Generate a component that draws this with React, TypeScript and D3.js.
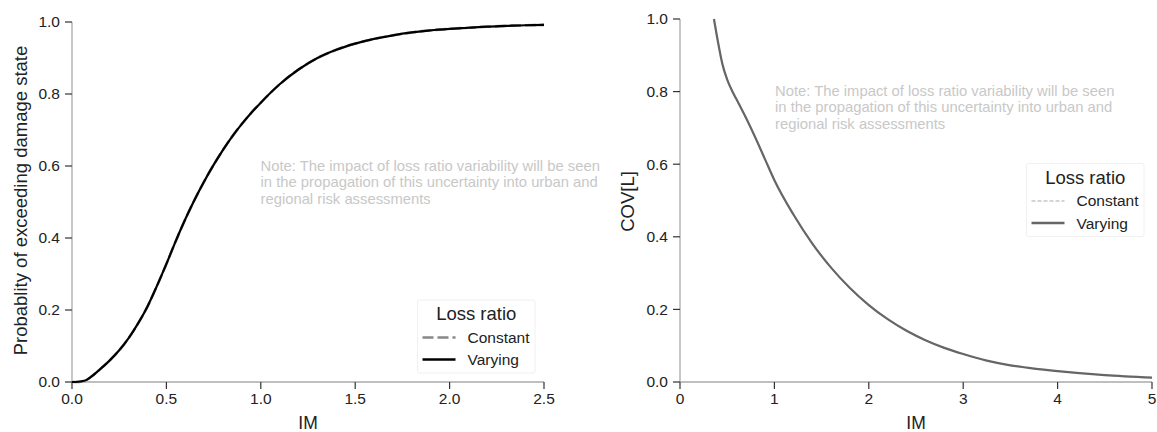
import React from "react";
import * as d3 from "d3";

// left panel: fragility curve (probability of exceeding damage state vs IM)
const imFragility = [0.0, 0.02, 0.07, 0.1, 0.15, 0.2, 0.25, 0.3, 0.35, 0.4, 0.45, 0.5, 0.55, 0.6, 0.65, 0.7, 0.75, 0.8, 0.85, 0.9, 0.95, 1.0, 1.1, 1.2, 1.3, 1.4, 1.5, 1.6, 1.7, 1.8, 1.9, 2.0, 2.1, 2.2, 2.3, 2.4, 2.5];
const probVarying = [0.0, 0.0, 0.004, 0.014, 0.036, 0.06, 0.088, 0.122, 0.163, 0.21, 0.267, 0.328, 0.392, 0.452, 0.507, 0.557, 0.603, 0.645, 0.683, 0.717, 0.748, 0.776, 0.827, 0.868, 0.9, 0.923, 0.94, 0.953, 0.963, 0.971, 0.977, 0.981, 0.984, 0.987, 0.989, 0.991, 0.992];
const probConstant = [0.0, 0.0, 0.004, 0.014, 0.036, 0.06, 0.088, 0.122, 0.163, 0.21, 0.267, 0.328, 0.392, 0.452, 0.507, 0.557, 0.603, 0.645, 0.683, 0.717, 0.748, 0.776, 0.827, 0.868, 0.9, 0.923, 0.94, 0.953, 0.963, 0.971, 0.977, 0.981, 0.984, 0.987, 0.989, 0.991, 0.992];

// right panel: coefficient of variation of loss vs IM
const imCov = [0.36, 0.4, 0.45, 0.5, 0.55, 0.6, 0.7, 0.8, 0.9, 1.0, 1.2, 1.4, 1.6, 1.8, 2.0, 2.2, 2.4, 2.6, 2.8, 3.0, 3.25, 3.5, 3.75, 4.0, 4.5, 5.0];
const covVarying = [1.0, 0.94, 0.875, 0.833, 0.803, 0.778, 0.727, 0.672, 0.614, 0.556, 0.462, 0.382, 0.315, 0.259, 0.212, 0.173, 0.141, 0.115, 0.094, 0.077, 0.059, 0.046, 0.037, 0.03, 0.019, 0.012];
const covConstant = [1.0, 0.94, 0.875, 0.833, 0.803, 0.778, 0.727, 0.672, 0.614, 0.556, 0.462, 0.382, 0.315, 0.259, 0.212, 0.173, 0.141, 0.115, 0.094, 0.077, 0.059, 0.046, 0.037, 0.03, 0.019, 0.012];

const leftXTicks = [0, 0.5, 1, 1.5, 2, 2.5];
const rightXTicks = [0, 1, 2, 3, 4, 5];
const yTicks = [0, 0.2, 0.4, 0.6, 0.8, 1.0];
const legendItems = ["Constant", "Varying"];
const noteLines = [
  "Note: The impact of loss ratio variability will be seen",
  "in the propagation of this uncertainty into urban and",
  "regional risk assessments",
];

const FONT = "'Liberation Sans', Arial, sans-serif";
const SPINE = "#aaaaaa";

type Panel = {
  x0: number; x1: number; y0: number; y1: number;
  xMax: number; xTicks: number[]; xFmt: (v: number) => string;
  ylabel: string; ylabelX: number; ylabelY: number;
};

function Axes({ p, children }: { p: Panel; children?: React.ReactNode }) {
  const x = d3.scaleLinear().domain([0, p.xMax]).range([p.x0, p.x1]);
  const y = d3.scaleLinear().domain([0, 1]).range([p.y1, p.y0]);
  return (
    <g>
      <line x1={p.x0} x2={p.x0} y1={p.y0} y2={p.y1} stroke={SPINE} strokeWidth={1.3} />
      <line x1={p.x0} x2={p.x1} y1={p.y1} y2={p.y1} stroke={SPINE} strokeWidth={1.3} />
      {yTicks.map((t) => (
        <g key={"y" + t}>
          <line x1={p.x0 - 7} x2={p.x0} y1={y(t)} y2={y(t)} stroke="#333" strokeWidth={1.2} />
          <text x={p.x0 - 12} y={y(t)} dy="0.35em" textAnchor="end" fontSize={15.5} fill="#222">
            {d3.format(".1f")(t)}
          </text>
        </g>
      ))}
      {p.xTicks.map((t) => (
        <g key={"x" + t}>
          <line x1={x(t)} x2={x(t)} y1={p.y1} y2={p.y1 + 7} stroke="#333" strokeWidth={1.2} />
          <text x={x(t)} y={p.y1 + 22} textAnchor="middle" fontSize={15.5} fill="#222">
            {p.xFmt(t)}
          </text>
        </g>
      ))}
      <text x={(p.x0 + p.x1) / 2} y={429} textAnchor="middle" fontSize={17.5} fill="#222">IM</text>
      <text
        transform={`translate(${p.ylabelX},${p.ylabelY}) rotate(-90)`}
        textAnchor="middle"
        fontSize={18.5}
        fill="#222"
      >
        {p.ylabel}
      </text>
      {children}
    </g>
  );
}

function Legend({ x, y, w, h, styles }: {
  x: number; y: number; w: number; h: number;
  styles: { stroke: string; width: number; dash?: string }[];
}) {
  return (
    <g>
      <rect x={x} y={y} width={w} height={h} fill="#fff" stroke="#f0f0f0" strokeWidth={1} rx={2} />
      <text x={x + w / 2} y={y + 20} textAnchor="middle" fontSize={18.5} fill="#222">Loss ratio</text>
      {legendItems.map((name, i) => (
        <g key={name}>
          <line
            x1={x + 5} x2={x + 38}
            y1={y + 37.5 + i * 22} y2={y + 37.5 + i * 22}
            stroke={styles[i].stroke}
            strokeWidth={styles[i].width}
            strokeDasharray={styles[i].dash}
          />
          <text x={x + 50} y={y + 42.7 + i * 22.5} fontSize={15.5} fill="#222">{name}</text>
        </g>
      ))}
    </g>
  );
}

export default function App() {
  const left: Panel = {
    x0: 72, x1: 544, y0: 22, y1: 382, xMax: 2.5, xTicks: leftXTicks,
    xFmt: d3.format(".1f"), ylabel: "Probablity of exceeding damage state", ylabelX: 26.5, ylabelY: 200.5,
  };
  const right: Panel = {
    x0: 680, x1: 1152, y0: 19, y1: 382, xMax: 5, xTicks: rightXTicks,
    xFmt: d3.format("d"), ylabel: "COV[L]", ylabelX: 634, ylabelY: 201.5,
  };

  const lx = d3.scaleLinear().domain([0, left.xMax]).range([left.x0, left.x1]);
  const ly = d3.scaleLinear().domain([0, 1]).range([left.y1, left.y0]);
  const rx = d3.scaleLinear().domain([0, right.xMax]).range([right.x0, right.x1]);
  const ry = d3.scaleLinear().domain([0, 1]).range([right.y1, right.y0]);

  const leftLine = d3.line<number>().x((_, i) => lx(imFragility[i])).y((d) => ly(d)).curve(d3.curveMonotoneX);
  const rightLine = d3.line<number>().x((_, i) => rx(imCov[i])).y((d) => ry(d)).curve(d3.curveMonotoneX);

  return (
    <svg
      width={1157}
      height={432}
      style={{ position: "absolute", left: 0, top: 0, background: "#fff" }}
      fontFamily={FONT}
    >
      <Axes p={left}>
        <path d={leftLine(probConstant) || ""} fill="none" stroke="#888" strokeWidth={2.6} strokeDasharray="11,4" />
        <path d={leftLine(probVarying) || ""} fill="none" stroke="#000" strokeWidth={2.2} />
        {noteLines.map((t, i) => (
          <text key={i} x={260.5} y={170.7 + i * 16.6} fontSize={14.8} fill="#c8c8c8">{t}</text>
        ))}
        <Legend
          x={417.5} y={300} w={117.5} h={73}
          styles={[{ stroke: "#888", width: 2.6, dash: "11,4" }, { stroke: "#000", width: 2.6 }]}
        />
      </Axes>
      <Axes p={right}>
        <path d={rightLine(covConstant) || ""} fill="none" stroke="#aaa" strokeWidth={1.2} strokeDasharray="4,2" />
        <path d={rightLine(covVarying) || ""} fill="none" stroke="#666" strokeWidth={2.2} />
        {noteLines.map((t, i) => (
          <text key={i} x={775} y={95.5 + i * 16.6} fontSize={14.8} fill="#c8c8c8">{t}</text>
        ))}
        <Legend
          x={1026.5} y={163.5} w={117.5} h={73}
          styles={[{ stroke: "#aaa", width: 1.2, dash: "4,2" }, { stroke: "#666", width: 2.6 }]}
        />
      </Axes>
    </svg>
  );
}
